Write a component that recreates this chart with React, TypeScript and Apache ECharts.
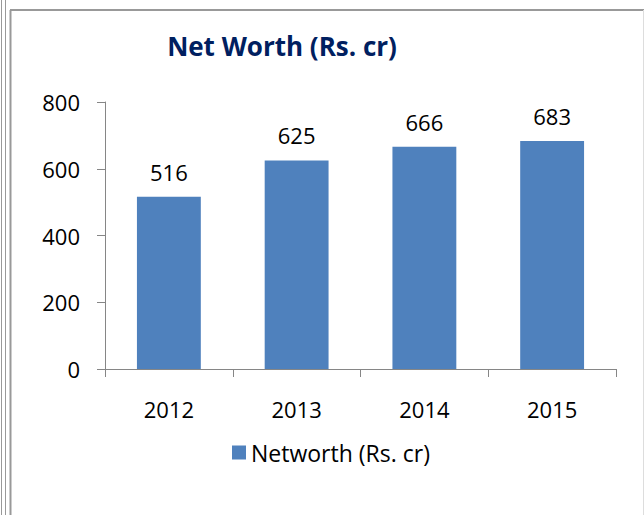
import React, { useEffect, useRef } from "react";
import * as echarts from "echarts";

const categories = ["2012", "2013", "2014", "2015"];
const netWorth = [516, 625, 666, 683];
const seriesName = "Networth (Rs. cr)";
const titleText = "Net Worth (Rs. cr)";

export default function App() {
  const ref = useRef<HTMLDivElement>(null);
  useEffect(() => {
    if (!ref.current) return;
    const chart = echarts.init(ref.current, null, { renderer: "svg" });
    const font = "'Open Sans', 'Noto Sans', sans-serif";
    chart.setOption({
      animation: false,
      backgroundColor: "#ffffff",
      title: {
        text: titleText,
        left: 277,
        top: 28,
        textAlign: "center",
        textStyle: { color: "#002060", fontSize: 26, fontWeight: "bold", fontFamily: font },
      },
      legend: {
        data: [seriesName],
        top: 436,
        left: 227,
        itemWidth: 14,
        itemHeight: 14,
        itemGap: 6,
        icon: "rect",
        textStyle: { fontSize: 23, color: "#000", fontFamily: font },
      },
      grid: { left: 105, right: 28, top: 102, bottom: 146, containLabel: false },
      xAxis: {
        type: "category",
        data: categories,
        axisLine: { lineStyle: { color: "#868686", width: 1 } },
        axisTick: { show: true, length: 8, lineStyle: { color: "#868686" } },
        axisLabel: { fontSize: 22, color: "#000", margin: 29, fontFamily: font },
      },
      yAxis: {
        type: "value",
        min: 0,
        max: 800,
        interval: 200,
        axisLine: { show: true, lineStyle: { color: "#868686", width: 1 } },
        axisTick: { show: true, length: 8, lineStyle: { color: "#868686" } },
        splitLine: { show: false },
        axisLabel: { fontSize: 22, color: "#000", margin: 25, fontFamily: font },
      },
      series: [
        {
          name: seriesName,
          type: "bar",
          data: netWorth,
          barWidth: "50%",
          itemStyle: { color: "#4F81BD" },
          label: {
            show: true,
            position: "top",
            distance: 14,
            fontSize: 22,
            color: "#000",
            fontFamily: font,
          },
        },
      ],
      graphic: [
        { type: "line", shape: { x1: 1.5, y1: 0, x2: 1.5, y2: 515 }, style: { stroke: "#999", lineWidth: 1 } },
        { type: "line", shape: { x1: 5.5, y1: 0, x2: 5.5, y2: 515 }, style: { stroke: "#999", lineWidth: 1 } },
        { type: "line", shape: { x1: 10.5, y1: 10, x2: 10.5, y2: 515 }, style: { stroke: "#999", lineWidth: 2 } },
        { type: "line", shape: { x1: 10, y1: 10, x2: 644, y2: 10 }, style: { stroke: "#999", lineWidth: 2 } },
        { type: "line", shape: { x1: 643.5, y1: 10, x2: 643.5, y2: 515 }, style: { stroke: "#ddd", lineWidth: 1 } },
      ],
    });
    return () => chart.dispose();
  }, []);
  return (
    <div
      ref={ref}
      style={{ position: "absolute", left: 0, top: 0, width: 644, height: 515 }}
    />
  );
}
